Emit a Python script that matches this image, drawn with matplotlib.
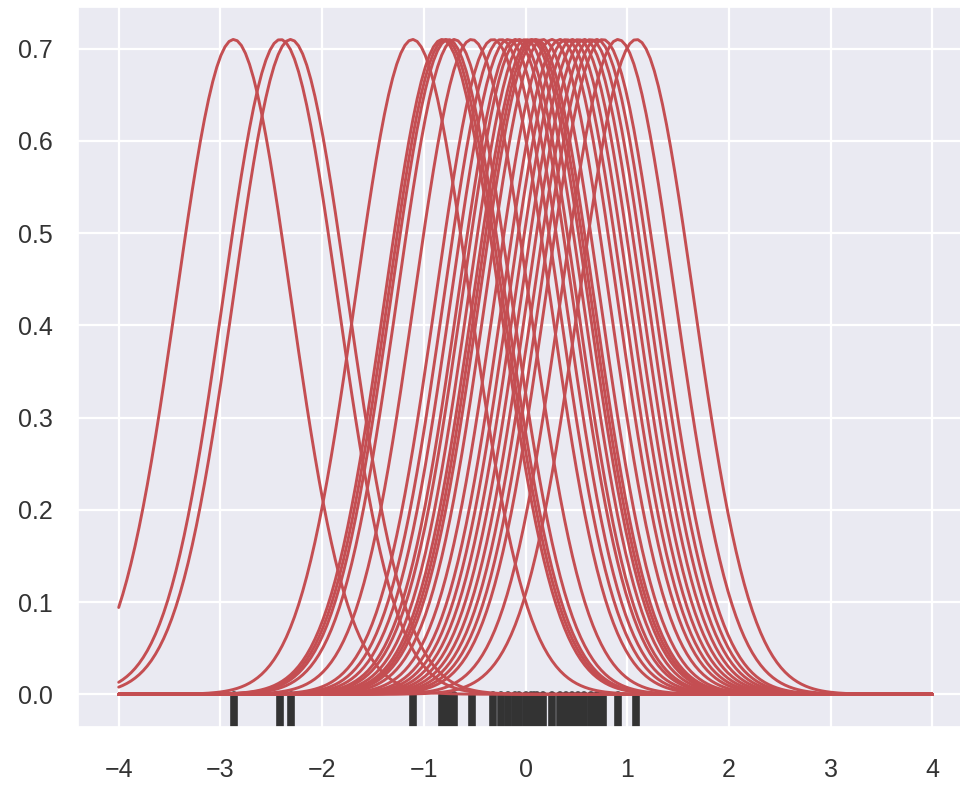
import numpy as np
import matplotlib
matplotlib.use("Agg")
import matplotlib.pyplot as plt
import seaborn as sns

# observations (read from the rug)
x_obs = [-2.87, -2.41, -2.31, -1.11,
         -0.82, -0.79, -0.76, -0.70,
         -0.53, -0.32,
         -0.24, -0.17, -0.10, -0.06,
         0.00, 0.05, 0.08, 0.11, 0.17,
         0.26,
         0.34, 0.40, 0.46, 0.52,
         0.58, 0.64, 0.70, 0.76,
         0.91, 1.09]
bandwidth = 0.562
support_range = [-4, 4]
n_support = 200
xticks = [-4, -3, -2, -1, 0, 1, 2, 3, 4]
yticks = [0.0, 0.1, 0.2, 0.3, 0.4, 0.5, 0.6, 0.7]

sns.set_theme(style="darkgrid")
plt.rcParams['font.family'] = ['Liberation Sans', 'DejaVu Sans']

fig = plt.figure(figsize=(9.6, 7.89), dpi=100)
ax = fig.add_axes([78/960, 1-727/789, 895/960, 720/789])

x = np.asarray(x_obs)
support = np.linspace(support_range[0], support_range[1], n_support)

# rug
for xi in x:
    ax.axvline(xi, ymin=0, ymax=0.045, color="0.2", linewidth=5.5, zorder=2)

red = sns.color_palette("deep")[3]
for xi in x:
    k = np.exp(-0.5 * ((support - xi) / bandwidth) ** 2) / (bandwidth * np.sqrt(2 * np.pi))
    ax.plot(support, k, color=red, linewidth=2.1, zorder=3)

ax.set_xlim(-4.4, 4.4)
ax.set_ylim(-0.0355, 0.745)
ax.set_xticks(xticks)
ax.set_yticks(yticks)
ax.set_yticklabels([f"{v:.1f}" for v in yticks])
ax.tick_params(axis='both', labelsize=18, colors="0.2", length=0)
ax.tick_params(axis='y', pad=18)
ax.tick_params(axis='x', pad=22)
ax.grid(True, color="white", linewidth=1.6)

fig.savefig("out.png", dpi=100)
